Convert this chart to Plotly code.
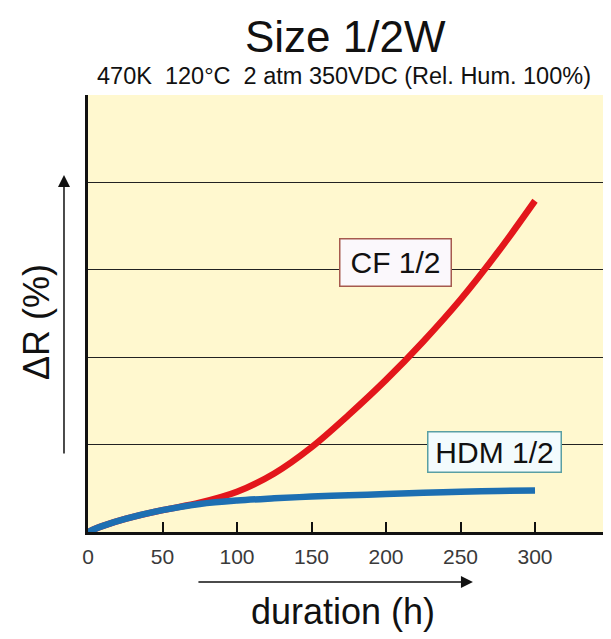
import plotly.graph_objects as go

# Data
duration_h = [0, 10, 25, 50, 75, 100, 125, 150, 175, 200, 225, 250, 275, 300]
hdm_half = [0, 0.07, 0.15, 0.25, 0.32, 0.36, 0.385, 0.405, 0.42, 0.435, 0.45, 0.46, 0.47, 0.475]
cf_half = [0, 0.07, 0.15, 0.25, 0.335, 0.46, 0.67, 0.97, 1.34, 1.74, 2.18, 2.66, 3.20, 3.79]
x_ticks = [0, 50, 100, 150, 200, 250, 300]
y_grid = [1, 2, 3, 4]

title_text = "Size 1/2W"
subtitle_text = "470K&nbsp;&nbsp;120°C&nbsp;&nbsp;2 atm 350VDC (Rel. Hum. 100%)"
x_title = "duration (h)"
y_title = "ΔR (%)"
cf_label = "CF 1/2"
hdm_label = "HDM 1/2"

FONT = "Liberation Sans, Arial, Helvetica, sans-serif"

fig = go.Figure()
fig.add_trace(go.Scatter(
    x=duration_h, y=cf_half, mode="lines", line=dict(color="#e3161b", width=6.5, shape="spline"),
    showlegend=False, hoverinfo="skip"))
fig.add_trace(go.Scatter(
    x=duration_h, y=hdm_half, mode="lines", line=dict(color="#1d6fb2", width=6.5, shape="spline"),
    showlegend=False, hoverinfo="skip"))

annotations = [
    dict(text=title_text, x=0.493, y=1.135, xref="paper", yref="paper", showarrow=False,
         font=dict(family=FONT, size=44, color="#111"), xanchor="center", yanchor="middle"),
    dict(text=subtitle_text, x=0.490, y=1.0435, xref="paper", yref="paper", showarrow=False,
         font=dict(family=FONT, size=23.5, color="#111"), xanchor="center", yanchor="middle"),
    dict(text=x_title, x=0.4876, y=-0.183, xref="paper", yref="paper", showarrow=False,
         font=dict(family=FONT, size=36, color="#111"), xanchor="center", yanchor="middle"),
    dict(text=y_title, x=-0.0994, y=0.4805, xref="paper", yref="paper", showarrow=False,
         textangle=-90, font=dict(family=FONT, size=36, color="#111"), xanchor="center", yanchor="middle"),
    # y arrow
    dict(text="", x=-0.0459, y=0.817, xref="paper", yref="paper", showarrow=True,
         ax=0, ay=280, axref="pixel", ayref="pixel", arrowhead=2, arrowsize=1.6, arrowwidth=1.5,
         arrowcolor="#111"),
    # x arrow
    dict(text="", x=0.736, y=-0.1144, xref="paper", yref="paper", showarrow=True,
         ax=-276, ay=0, arrowhead=2, arrowsize=1.6, arrowwidth=1.5, arrowcolor="#111"),
    dict(text=cf_label, x=206.7, y=3.08, xref="x", yref="y", showarrow=False,
         font=dict(family=FONT, size=30, color="#111"), bgcolor="#fbf8fc",
         bordercolor="#a65a4e", borderwidth=1.5, borderpad=5, width=100, height=36),
    dict(text=hdm_label, x=272.5, y=0.91, xref="x", yref="y", showarrow=False,
         font=dict(family=FONT, size=30, color="#111"), bgcolor="#f3fbfd",
         bordercolor="#5a9fa3", borderwidth=1.5, borderpad=4, width=124, height=31),
]

# the page body adds an 8px margin; size the figure so the plot area lands where the reference has it
fig.update_layout(
    width=603, height=631,
    margin=dict(l=80, r=0, t=87, b=107),
    paper_bgcolor="white", plot_bgcolor="#fff8cf",
    annotations=annotations,
    xaxis=dict(range=[0, 351], tickvals=x_ticks, ticks="inside", ticklen=10, tickwidth=1.5,
               tickcolor="#111", showgrid=False, zeroline=False, showline=True, linecolor="#111",
               linewidth=3, tickfont=dict(family=FONT, size=21, color="#3a3a3a"), ticklabelstandoff=4),
    yaxis=dict(range=[0, 5], tickvals=y_grid, showticklabels=False, ticks="", showgrid=True,
               gridcolor="#222", gridwidth=1.2, zeroline=False, showline=True, linecolor="#111",
               linewidth=3),
)

fig.write_html("out.html")
